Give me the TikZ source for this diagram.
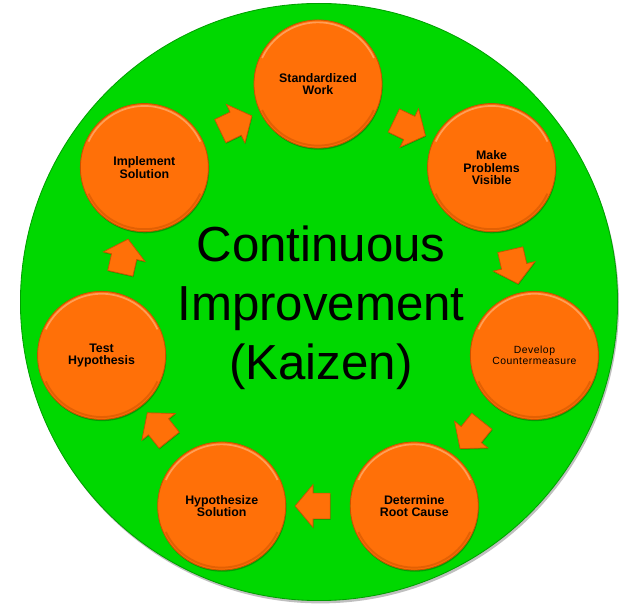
\documentclass[tikz,border=0pt]{standalone}
\usepackage{xcolor}
\usepackage{fontspec}
\setmainfont{Liberation Sans}
\usepackage{tikz}
\usetikzlibrary{shapes.geometric, shapes.arrows, shadows, positioning, calc}

\definecolor{kzgreen}{RGB}{0,216,0}
\definecolor{kzgreenedge}{RGB}{0,160,0}
\definecolor{kzorange}{RGB}{255,112,8}
\definecolor{kzedge}{RGB}{200,82,0}
\definecolor{kzhigh}{RGB}{255,158,86}

\begin{document}
\begin{tikzpicture}[
    x=0.025cm, y=-0.025cm,
    disk/.style={circle, minimum size=14.925cm, inner sep=0pt, fill=kzgreen, draw=kzgreenedge, line width=0.6pt,
        drop shadow={shadow xshift=1pt, shadow yshift=-2pt, opacity=0.25, fill=black}},
    stage/.style={circle, minimum size=3.2cm, inner sep=0pt, fill=kzorange, draw=kzedge, line width=0.6pt, align=center,
        font=\fontsize{8.8}{9}\selectfont\bfseries,
        drop shadow={shadow xshift=0.5pt, shadow yshift=-1.2pt, opacity=0.25, fill=black},
        path picture={
            \draw[kzhigh, line width=1.2pt] ($(path picture bounding box.center)+(25:1.54cm)$) arc[start angle=25, end angle=155, radius=1.54cm];
            \draw[kzedge, line width=1.4pt, opacity=0.5] ($(path picture bounding box.center)+(205:1.54cm)$) arc[start angle=205, end angle=335, radius=1.54cm];
        }},
    flow/.style={single arrow, minimum height=0.875cm, inner xsep=0pt, inner ysep=0.3125cm, single arrow head extend=0.2125cm,
        single arrow tip angle=100, fill=kzorange, draw=kzedge, line width=0.5pt, sloped, allow upside down,
        drop shadow={shadow xshift=0.4pt, shadow yshift=-0.8pt, opacity=0.2, fill=black}}
]
\useasboundingbox (0,0) rectangle (640,610);

% Background disk and title
\node[disk] (base) at (319,302) {};
\node[font=\fontsize{35}{42}\selectfont, align=center] (title) at (321,308) {Continuous\\Improvement\\(Kaizen)};

% Stages
\node[stage] (sw) at (318,84) {Standardized\\Work};
\node[stage] (mpv) at (491.6,167.6) {Make\\Problems\\Visible};
\node[stage, font=\fontsize{7.4}{7.8}\selectfont\addfontfeature{LetterSpace=5}] (dc) at (534.4,355.4) {Develop\\Countermeasure};
\node[stage] (drc) at (414.3,506) {Determine\\Root Cause};
\node[stage] (hs) at (221.7,506) {Hypothesize\\Solution};
\node[stage] (th) at (101.6,355.4) {Test\\Hypothesis};
\node[stage] (is) at (144.4,167.6) {Implement\\Solution};

% Arrows
\path (sw) -- node[flow] {} (mpv);
\path (mpv) -- node[flow] {} (dc);
\path (dc) -- node[flow] {} (drc);
\path (drc) -- node[flow] {} (hs);
\path (hs) -- node[flow] {} (th);
\path (th) -- node[flow] {} (is);
\path (is) -- node[flow] {} (sw);

\end{tikzpicture}
\end{document}
